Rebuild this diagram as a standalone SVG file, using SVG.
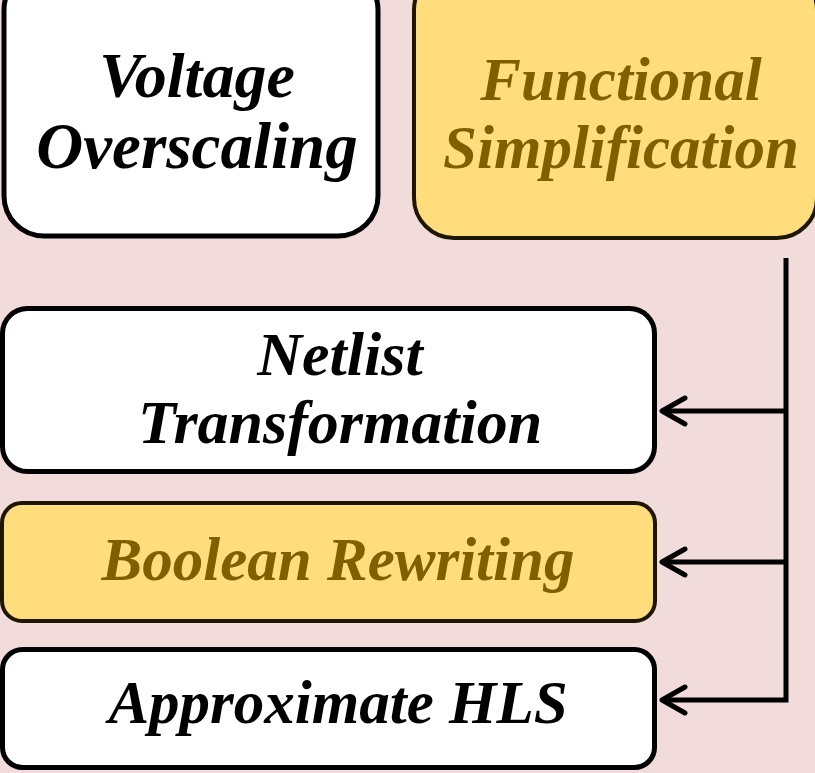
<svg xmlns="http://www.w3.org/2000/svg" width="815" height="773" viewBox="0 0 815 773">
<style>
.t{font-family:"Liberation Serif","Times New Roman",serif;font-weight:bold;font-style:italic;text-anchor:middle}
.w{fill:#ffffff;stroke:#000000;stroke-width:5}
.y{fill:#FFDC7C;stroke:#1E1700;stroke-width:4}
.tk{fill:#000000}
.ty{fill:#7F6000}
.c{fill:none;stroke:#000000;stroke-width:5}
</style>
<rect width="815" height="773" fill="#F2DCDB"/>
<g id="voltage-overscaling">
<rect class="w" x="4" y="-30" width="374" height="266" rx="40"/>
<text class="t tk" x="197" y="97" font-size="64">Voltage</text>
<text class="t tk" x="197" y="168" font-size="65">Overscaling</text>
</g>
<g id="functional-simplification">
<rect class="y" x="414" y="-30" width="403" height="268" rx="40"/>
<text class="t ty" x="621" y="100" font-size="61">Functional</text>
<text class="t ty" x="621" y="168" font-size="61">Simplification</text>
</g>
<g id="netlist-transformation">
<rect class="w" x="2.5" y="308.5" width="652" height="163" rx="25"/>
<text class="t tk" x="340" y="375" font-size="62">Netlist</text>
<text class="t tk" x="340" y="443" font-size="62">Transformation</text>
</g>
<g id="boolean-rewriting">
<rect class="y" x="2" y="503" width="653" height="118" rx="20"/>
<text class="t ty" x="338" y="580" font-size="61">Boolean Rewriting</text>
</g>
<g id="approximate-hls">
<rect class="w" x="2.5" y="649.5" width="652" height="118" rx="20"/>
<text class="t tk" x="338" y="723" font-size="61">Approximate HLS</text>
</g>
<g id="connectors">
<path class="c" d="M786 258 V700 H662"/>
<path class="c" d="M786 411 H662"/>
<path class="c" d="M786 562 H662"/>
<path d="M685 398 L662 411 L685 424 M685 549 L662 562 L685 575 M685 687 L662 700 L685 713" fill="none" stroke="#000" stroke-width="5" stroke-linecap="round" stroke-linejoin="round"/>
</g>
</svg>
